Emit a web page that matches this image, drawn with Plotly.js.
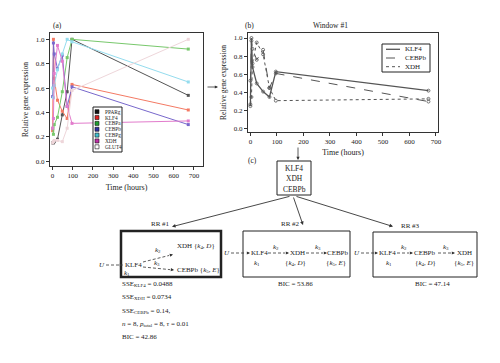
<!DOCTYPE html>
<html><head><meta charset="utf-8">
<script src="https://cdn.plot.ly/plotly-3.0.1.min.js"></script>
<style>html,body{margin:0;padding:0;background:#fff}#c{width:500px;height:363px}</style>
</head><body><div id="c"></div>
<script>
// ---- data ----
const times = [0, 4, 8, 24, 48, 72, 96, 672];
const geneNames = ['PPARg', 'KLF4', 'CEBPa', 'CEBPb', 'CEBPg', 'XDH', 'GLUT4'];
const PPARg = [0.15, 0.15, 0.16, 0.18, 0.38, 0.57, 1.00, 0.54];
const KLF4  = [0.25, 1.00, 0.68, 0.50, 0.41, 0.35, 0.63, 0.42];
const CEBPa = [0.27, 0.22, 0.30, 0.36, 0.57, 0.85, 1.00, 0.92];
const CEBPb = [0.53, 0.97, 0.88, 0.76, 0.87, 0.45, 0.61, 0.30];
const CEBPg = [0.60, 0.52, 0.62, 0.75, 0.88, 1.00, 0.98, 0.65];
const XDH   = [0.27, 0.35, 0.72, 0.95, 0.82, 0.45, 0.31, 0.33];
const GLUT4 = [0.15, 0.16, 0.17, 0.17, 0.16, 0.27, 0.58, 1.00];
const windowGenes = ['KLF4', 'CEBPb', 'XDH'];
const boxGenes = ['KLF4', 'XDH', 'CEBPb'];
const xTicks = [0, 100, 200, 300, 400, 500, 600, 700];
const yTicks = [0, 0.2, 0.4, 0.6, 0.8, 1.0];
const yTickText = ['0.0', '0.2', '0.4', '0.6', '0.8', '1.0'];
const rrLabels = ['RR #1', 'RR #2', 'RR #3'];
const rr1Stats = ['SSE<sub>KLF4</sub> = 0.0488', 'SSE<sub>XDH</sub> = 0.0734', 'SSE<sub>CEBPb</sub> = 0.14,',
                  '<i>n</i> = 8, <i>p</i><sub>total</sub> = 8, <i>τ</i> = 0.01', 'BIC = 42.86'];
const bicOthers = ['BIC = 53.86', 'BIC = 47.14'];

// ---- styles ----
const W = 500, H = 363;
const X = v => v / W, Y = v => 1 - v / H;
const FONT = 'Liberation Serif, Times New Roman, serif';
const series = {PPARg, KLF4, CEBPa, CEBPb, CEBPg, XDH, GLUT4};
const lineColors = {PPARg:'#555555', KLF4:'#f47a64', CEBPa:'#78c86c', CEBPb:'#7868cc', CEBPg:'#94dcee', XDH:'#e27ccc', GLUT4:'#eed6da'};
const swatch = {PPARg:'#111111', KLF4:'#e02020', CEBPa:'#20a030', CEBPb:'#3030a0', CEBPg:'#40c0d0', XDH:'#c030a8', GLUT4:'#ffffff'};
const winDash = {KLF4:'solid', CEBPb:'dash', XDH:'dot'};

const traces = [];
geneNames.forEach(g => traces.push({
  x: times, y: series[g], xaxis:'x', yaxis:'y', mode:'lines+markers', name:g, showlegend:false,
  line:{color:lineColors[g], width:1}, marker:{symbol:'square', size:3, color:lineColors[g]}
}));
windowGenes.forEach(g => traces.push({
  x: times, y: series[g], xaxis:'x2', yaxis:'y2', mode:'lines+markers', name:g, showlegend:false,
  line:{color:'#555', width:g==='KLF4'?1.3:1, dash:winDash[g]},
  marker:{symbol:'circle-open', size:3, color:'#555', line:{width:0.8}}
}));

const axBase = {showline:true, mirror:true, linecolor:'#333', linewidth:1, ticks:'outside', ticklen:3,
  tickwidth:1, tickcolor:'#333', showgrid:false, zeroline:false, tickfont:{family:FONT, size:7, color:'#222'}};

const shapes = [], ann = [];
function text(t, x, y, opt) {
  ann.push(Object.assign({text:t, x:X(x), y:Y(y), xref:'paper', yref:'paper', showarrow:false,
    xanchor:'center', yanchor:'middle', font:{family:FONT, size:7, color:'#222'}}, opt || {}));
}
function arrow(x1, y1, x2, y2, w) {
  ann.push({text:'', x:X(x2), y:Y(y2), xref:'paper', yref:'paper', ax:x1 - x2, ay:y1 - y2,
    showarrow:true, arrowhead:2, arrowsize:0.8, arrowwidth:w || 0.8, arrowcolor:'#333', standoff:0});
}
function dashArrow(x1, y1, x2, y2) {
  const L = Math.hypot(x2 - x1, y2 - y1), ux = (x2 - x1) / L, uy = (y2 - y1) / L;
  shapes.push({type:'line', xref:'paper', yref:'paper', x0:X(x1), y0:Y(y1), x1:X(x2 - ux * 4), y1:Y(y2 - uy * 4),
    line:{color:'#333', width:0.8, dash:'3px,2px'}});
  arrow(x2 - ux * 4, y2 - uy * 4, x2, y2, 0.8);
}
function box(x0, y0, x1, y1, w, fill) {
  shapes.push({type:'rect', xref:'paper', yref:'paper', x0:X(x0), y0:Y(y1), x1:X(x1), y1:Y(y0),
    line:{color:'#222', width:w}, fillcolor:fill || 'rgba(0,0,0,0)'});
}

// panel labels
text('(a)', 51, 25, {xanchor:'left', font:{family:FONT, size:7.5, color:'#222'}});
text('(b)', 243, 25, {xanchor:'left', font:{family:FONT, size:7.5, color:'#222'}});
text('Window #1', 330, 25, {font:{family:FONT, size:7.5, color:'#222'}});
text('(c)', 246, 160, {xanchor:'left', font:{family:FONT, size:7.5, color:'#222'}});
arrow(206, 87, 218, 87, 0.8);

// legend (a)
box(93, 107, 122, 152, 1, '#ffffff');
geneNames.forEach((g, i) => {
  const yy = 111.7 + i * 5.85;
  shapes.push({type:'rect', xref:'paper', yref:'paper', x0:X(95), x1:X(99), y0:Y(yy + 2), y1:Y(yy - 2),
    fillcolor:swatch[g], line:{color:'#111', width:0.6}});
  text(g, 102.5, yy, {xanchor:'left', font:{family:FONT, size:5.3, color:'#222'}});
});
// legend (b)
box(382, 44, 430, 72, 1, '#ffffff');
windowGenes.forEach((g, i) => {
  const yy = 49.3 + i * 8.7;
  shapes.push({type:'line', xref:'paper', yref:'paper', x0:X(386), x1:X(400), y0:Y(yy), y1:Y(yy),
    line:{color:'#555', width:g==='KLF4'?1.3:1, dash:winDash[g]}});
  text(g, 403, yy, {xanchor:'left', font:{family:FONT, size:7, color:'#222'}});
});

// diagram (c)
arrow(298, 146, 298, 160, 0.8);
box(277, 161, 311, 195, 1);
boxGenes.forEach((g, i) => text(g, 294, 168 + i * 10.5, {font:{family:FONT, size:7.5, color:'#222'}}));
arrow(291, 196, 172, 226.7, 0.9);
arrow(293, 196, 303, 225, 0.9);
arrow(295, 196, 393, 226.5, 0.9);
text(rrLabels[0], 160, 224);
text(rrLabels[1], 290, 224);
text(rrLabels[2], 410, 226);

// RR #1
box(121, 231, 221, 277, 2.5);
text('<i>U</i>', 102, 265);
dashArrow(106, 265, 123, 265);
text('KLF4', 133, 265);
text('<i>k</i><sub>1</sub>', 127, 273);
dashArrow(143, 262, 173, 254.5);
text('<i>k</i><sub>2</sub>', 158, 250);
text('XDH {<i>k</i><sub>4</sub>, <i>D</i>}', 175, 246, {xanchor:'left'});
dashArrow(143, 267, 174, 270);
text('<i>k</i><sub>3</sub>', 157, 263);
text('CEBPb {<i>k</i><sub>5</sub>, <i>E</i>}', 175, 270, {xanchor:'left'});
rr1Stats.forEach((s, i) => text(s, 120, 284 + i * 13.3, {xanchor:'left'}));

// RR #2
box(243, 231, 350, 277, 1);
text('<i>U</i>', 227, 253);
dashArrow(231, 253, 250, 253);
text('KLF4', 259, 253);
text('<i>k</i><sub>1</sub>', 257, 262.5);
dashArrow(268, 253, 289, 253);
text('<i>k</i><sub>2</sub>', 276, 247);
text('XDH', 297, 253);
text('{<i>k</i><sub>4</sub>, <i>D</i>}', 295, 262.5);
dashArrow(306, 253, 327, 253);
text('<i>k</i><sub>3</sub>', 318, 247);
text('CEBPb', 338, 253);
text('{<i>k</i><sub>5</sub>, <i>E</i>}', 336, 262.5);
text(bicOthers[0], 295, 284);

// RR #3
box(373, 232, 477, 277, 1);
text('<i>U</i>', 357, 253);
dashArrow(361, 253, 378, 253);
text('KLF4', 387, 253);
text('<i>k</i><sub>1</sub>', 389, 263);
dashArrow(397, 253, 413, 253);
text('<i>k</i><sub>2</sub>', 404, 247);
text('CEBPb', 425, 253);
text('{<i>k</i><sub>4</sub>, <i>D</i>}', 425, 263);
dashArrow(438, 253, 455, 253);
text('<i>k</i><sub>3</sub>', 446, 247);
text('XDH', 464, 253);
text('{<i>k</i><sub>5</sub>, <i>E</i>}', 464, 263);
text(bicOthers[1], 432, 284);

const layout = {
  width:W, height:H, margin:{l:0, r:0, t:0, b:0}, paper_bgcolor:'#fff', plot_bgcolor:'#fff', showlegend:false,
  font:{family:FONT, color:'#222'},
  xaxis:Object.assign({}, axBase, {domain:[X(50), X(203)], range:[-13, 745], tickvals:xTicks, anchor:'y',
    title:{text:'Time (hours)', font:{family:FONT, size:8}, standoff:4}}),
  yaxis:Object.assign({}, axBase, {domain:[Y(166), Y(33)], range:[-0.04, 1.052], tickvals:yTicks, ticktext:yTickText, anchor:'x',
    title:{text:'Relative gene expression', font:{family:FONT, size:7.5}, standoff:6}}),
  xaxis2:Object.assign({}, axBase, {domain:[X(248), X(438)], range:[-9, 708], tickvals:xTicks, anchor:'y2',
    title:{text:'Time (hours)', font:{family:FONT, size:8}, standoff:3}}),
  yaxis2:Object.assign({}, axBase, {domain:[Y(132), Y(33)], range:[-0.035, 1.055], tickvals:yTicks, ticktext:yTickText, anchor:'x2',
    title:{text:'Relative gene expression', font:{family:FONT, size:7.5}, standoff:6}}),
  shapes:shapes, annotations:ann
};
Plotly.newPlot('c', traces, layout, {displayModeBar:false, staticPlot:true});
</script></body></html>
